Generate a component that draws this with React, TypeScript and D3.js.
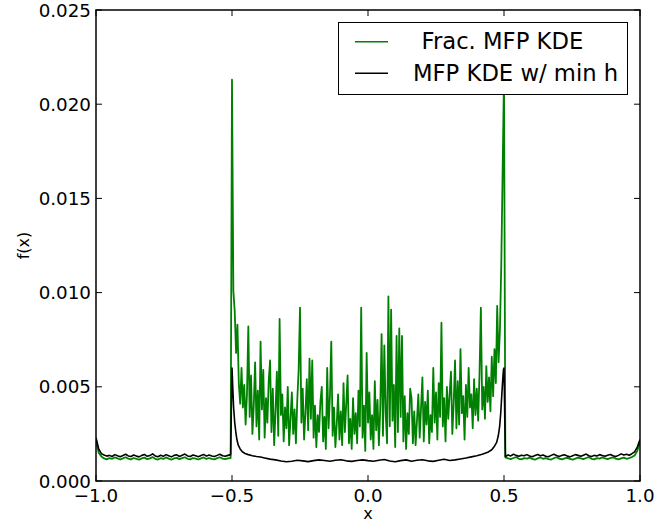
import React from 'react';
import * as d3 from 'd3';

const W = 657;
const H = 522;
const PLOT = { left: 96, right: 640, top: 10, bottom: 481 };

// axis ticks
const xTicks = [-1.0, -0.5, 0.0, 0.5, 1.0];
const xTickLabels = ['\u22121.0', '\u22120.5', '0.0', '0.5', '1.0'];
const yTicks = [0, 5, 10, 15, 20, 25]; // in units of 1e-3
const yTickLabels = ['0.000', '0.005', '0.010', '0.015', '0.020', '0.025'];

const seriesNames = ['Frac. MFP KDE', 'MFP KDE w/ min h'];

// all f(x) values below are in units of 1e-3
// x grid: left outer region -1.0 .. -0.505 (51 samples)
const greenLeft = [
  2.2, 1.5, 1.3, 1.2, 1.15, 1.22, 1.18, 1.25, 1.2, 1.14,
  1.2, 1.26, 1.19, 1.15, 1.22, 1.17, 1.13, 1.2, 1.24, 1.16,
  1.2, 1.27, 1.18, 1.14, 1.21, 1.17, 1.25, 1.19, 1.13, 1.2,
  1.23, 1.16, 1.21, 1.26, 1.18, 1.15, 1.22, 1.19, 1.14, 1.2,
  1.25, 1.17, 1.22, 1.18, 1.15, 1.21, 1.26, 1.19, 1.16, 1.2,
  1.22,
];
// x grid: inner region -0.5 .. 0.5 step 0.005 (201 samples)
const greenInner = [
  21.3, 10.1, 9.0, 6.8, 8.3, 5.2, 4.1, 6.0, 3.9, 5.1,
  3.0, 4.6, 8.2, 3.4, 5.6, 2.5, 4.0, 6.3, 2.9, 4.8,
  2.2, 7.4, 3.8, 5.9, 2.3, 4.4, 3.1, 5.3, 6.4, 2.6,
  4.9, 1.9, 3.7, 5.8, 2.4, 8.6, 3.5, 4.6, 2.1, 3.9,
  2.8, 5.0, 1.9, 3.3, 4.7, 2.5, 3.8, 2.0, 4.3, 5.9,
  9.2, 3.1, 4.9, 2.2, 3.6, 5.4, 2.7, 6.5, 3.3, 6.4,
  2.3, 4.0, 1.8, 3.5, 2.6, 4.2, 5.0, 2.1, 3.4, 1.7,
  6.0, 2.8, 4.5, 7.4, 2.4, 3.9, 1.8, 3.0, 4.6, 2.2,
  3.7, 1.9, 5.2, 2.6, 4.1, 5.6, 2.0, 3.3, 1.7, 4.4,
  2.5, 3.6, 2.0, 4.8, 2.9, 9.2, 2.3, 4.0, 1.6, 6.8,
  3.1, 4.7, 2.2, 3.5, 1.7, 5.3, 2.7, 4.3, 1.9, 3.8,
  7.8, 2.4, 7.2, 3.6, 2.0, 9.8, 2.9, 9.1, 3.2, 5.1,
  1.8, 7.7, 2.6, 8.1, 3.4, 7.7, 2.1, 4.5, 1.7, 3.6,
  2.5, 4.9, 4.4, 2.0, 3.7, 1.9, 3.2, 4.6, 2.3, 3.9,
  5.5, 2.1, 4.2, 3.0, 4.8, 2.0, 3.5, 2.6, 6.0, 3.1,
  4.7, 2.2, 5.2, 3.4, 8.4, 2.9, 4.4, 2.1, 5.0, 3.3,
  4.6, 5.8, 2.5, 4.1, 6.4, 2.8, 5.3, 3.0, 7.0, 3.6,
  4.5, 2.2, 5.1, 3.4, 6.0, 3.9, 4.6, 2.8, 5.4, 3.5,
  4.9, 3.2, 5.7, 9.2, 3.8, 5.0, 3.3, 6.1, 4.2, 5.5,
  3.7, 6.6, 4.5, 7.0, 5.2, 9.3, 6.3, 8.0, 11.5, 16.5,
  21.5,
];
// x grid: right outer region 0.505 .. 1.0 (51 samples)
const greenRight = [
  1.25, 1.2, 1.16, 1.22, 1.27, 1.18, 1.15, 1.21, 1.19, 1.24,
  1.17, 1.13, 1.2, 1.25, 1.18, 1.22, 1.16, 1.14, 1.21, 1.26,
  1.19, 1.15, 1.2, 1.23, 1.17, 1.13, 1.19, 1.24, 1.2, 1.16,
  1.22, 1.27, 1.18, 1.15, 1.21, 1.19, 1.25, 1.2, 1.16, 1.22,
  1.26, 1.19, 1.15, 1.2, 1.24, 1.18, 1.22, 1.27, 1.35, 1.6,
  2.1,
];

const blackLeft = [
  2.3, 1.7, 1.45, 1.38, 1.32, 1.36, 1.3, 1.4, 1.34, 1.29,
  1.35, 1.42, 1.33, 1.3, 1.38, 1.32, 1.28, 1.36, 1.41, 1.31,
  1.35, 1.44, 1.33, 1.29, 1.37, 1.31, 1.4, 1.34, 1.28, 1.36,
  1.39, 1.3, 1.37, 1.43, 1.33, 1.3, 1.38, 1.34, 1.29, 1.35,
  1.41, 1.32, 1.38, 1.33, 1.3, 1.36, 1.42, 1.34, 1.31, 1.36,
  1.4,
];
const blackInnerX = [
  -0.5, -0.497, -0.494, -0.49, -0.486, -0.482, -0.477, -0.47, -0.462, -0.452,
  -0.44, -0.425, -0.41, -0.395, -0.38,
  -0.36, -0.34, -0.32, -0.3, -0.28, -0.26, -0.24, -0.22, -0.2, -0.18,
  -0.16, -0.14, -0.12, -0.1, -0.08, -0.06, -0.04, -0.02, 0, 0.02,
  0.04, 0.06, 0.08, 0.1, 0.12, 0.14, 0.16, 0.18, 0.2, 0.22,
  0.24, 0.26, 0.28, 0.3, 0.32, 0.34, 0.36, 0.38, 0.4, 0.42,
  0.44,
  0.455, 0.465, 0.473, 0.479, 0.484, 0.488, 0.492, 0.495, 0.498, 0.5,
];
const blackInnerY = [
  6.0, 4.9, 3.9, 3.1, 2.6, 2.2, 1.9, 1.7, 1.55, 1.46,
  1.4, 1.34, 1.3, 1.27, 1.22,
  1.16, 1.12, 1.06, 1.02, 1.05, 1.1, 1.07, 1.03, 1.08, 1.12,
  1.09, 1.05, 1.1, 1.13, 1.07, 1.04, 1.09, 1.12, 1.08, 1.05,
  1.1, 1.14, 1.06, 1.02, 1.08, 1.12, 1.05, 1.1, 1.13, 1.07,
  1.04, 1.1, 1.15, 1.09, 1.12, 1.17, 1.22, 1.28, 1.34, 1.42,
  1.52,
  1.66, 1.85, 2.05, 2.4, 2.9, 3.6, 4.6, 5.3, 5.9, 6.0,
];
const blackRight = [
  1.3, 1.38, 1.33, 1.42, 1.36, 1.31, 1.37, 1.34, 1.4, 1.33,
  1.29, 1.35, 1.41, 1.34, 1.38, 1.31, 1.29, 1.36, 1.42, 1.35,
  1.3, 1.36, 1.39, 1.32, 1.28, 1.34, 1.4, 1.36, 1.31, 1.37,
  1.43, 1.34, 1.3, 1.36, 1.33, 1.4, 1.35, 1.31, 1.37, 1.41,
  1.34, 1.3, 1.36, 1.44, 1.38, 1.42, 1.37, 1.45, 1.55, 1.8,
  2.2,
];

// sample grids (x positions only)
const outerLeftX = d3.range(51).map((i) => -1 + (i * 0.495) / 50);
const outerRightX = d3.range(51).map((i) => 0.505 + (i * 0.495) / 50);
const innerX = d3.range(201).map((i) => -0.5 + i * 0.005);

type P = [number, number];
const zip = (xs: number[], ys: number[]): P[] => xs.map((x, i) => [x, ys[i]]);

const greenData: P[] = [
  ...zip(outerLeftX, greenLeft),
  ...zip(innerX, greenInner),
  ...zip(outerRightX, greenRight),
];
const blackData: P[] = [
  ...zip(outerLeftX, blackLeft),
  ...zip(blackInnerX, blackInnerY),
  ...zip(outerRightX, blackRight),
];

const FONT = "'DejaVu Sans', sans-serif";
const GREEN = '#008000';

export default function App() {
  const x = d3.scaleLinear().domain([-1, 1]).range([PLOT.left, PLOT.right]);
  const y = d3.scaleLinear().domain([0, 25]).range([PLOT.bottom, PLOT.top]);
  const line = d3
    .line<P>()
    .x((d) => x(d[0]))
    .y((d) => y(d[1]));

  const tickLen = 6;
  const legend = { x: 338.5, y: 22.5, w: 289, h: 72 };

  return (
    <svg
      width={W}
      height={H}
      style={{ position: 'absolute', left: 0, top: 0, background: '#fff' }}
      fontFamily={FONT}
    >
      <rect x={0} y={0} width={W} height={H} fill="#fff" />
      <defs>
        <clipPath id="plotclip">
          <rect x={PLOT.left} y={PLOT.top} width={PLOT.right - PLOT.left} height={PLOT.bottom - PLOT.top} />
        </clipPath>
      </defs>
      <g clipPath="url(#plotclip)">
        <path d={line(greenData) || ''} fill="none" stroke={GREEN} strokeWidth={1.8} strokeLinejoin="round" />
        <path d={line(blackData) || ''} fill="none" stroke="#000" strokeWidth={1.6} strokeLinejoin="round" />
      </g>

      {/* ticks */}
      {xTicks.map((t, i) => (
        <g key={'xt' + i}>
          <line x1={x(t)} x2={x(t)} y1={PLOT.bottom} y2={PLOT.bottom - tickLen} stroke="#000" strokeWidth={1} />
          <line x1={x(t)} x2={x(t)} y1={PLOT.top} y2={PLOT.top + tickLen} stroke="#000" strokeWidth={1} />
          <text x={x(t)} y={502} textAnchor="middle" fontSize={18.3} fill="#000">
            {xTickLabels[i]}
          </text>
        </g>
      ))}
      {yTicks.map((t, i) => (
        <g key={'yt' + i}>
          <line x1={PLOT.left} x2={PLOT.left + tickLen} y1={y(t)} y2={y(t)} stroke="#000" strokeWidth={1} />
          <line x1={PLOT.right} x2={PLOT.right - tickLen} y1={y(t)} y2={y(t)} stroke="#000" strokeWidth={1} />
          <text x={91} y={y(t) + 6.6} textAnchor="end" fontSize={18.3} fill="#000">
            {yTickLabels[i]}
          </text>
        </g>
      ))}

      {/* frame */}
      <rect
        x={PLOT.left}
        y={PLOT.top}
        width={PLOT.right - PLOT.left}
        height={PLOT.bottom - PLOT.top}
        fill="none"
        stroke="#000"
        strokeWidth={1.5}
      />

      {/* axis labels */}
      <text x={(PLOT.left + PLOT.right) / 2} y={518.5} textAnchor="middle" fontSize={16} fill="#000">
        x
      </text>
      <text
        transform={`translate(29, ${(PLOT.top + PLOT.bottom) / 2}) rotate(-90)`}
        textAnchor="middle"
        fontSize={16}
        fill="#000"
      >
        f(x)
      </text>

      {/* legend */}
      <g>
        <rect x={legend.x} y={legend.y} width={legend.w} height={legend.h} fill="#fff" stroke="#000" strokeWidth={1} />
        <line x1={355} x2={388} y1={41.7} y2={41.7} stroke={GREEN} strokeWidth={1.5} />
        <text x={421.5} y={48.5} fontSize={22.7} fill="#000">
          {seriesNames[0]}
        </text>
        <line x1={355} x2={388} y1={73.3} y2={73.3} stroke="#000" strokeWidth={1.5} />
        <text x={413} y={80.5} fontSize={22.7} fill="#000">
          {seriesNames[1]}
        </text>
      </g>
    </svg>
  );
}
